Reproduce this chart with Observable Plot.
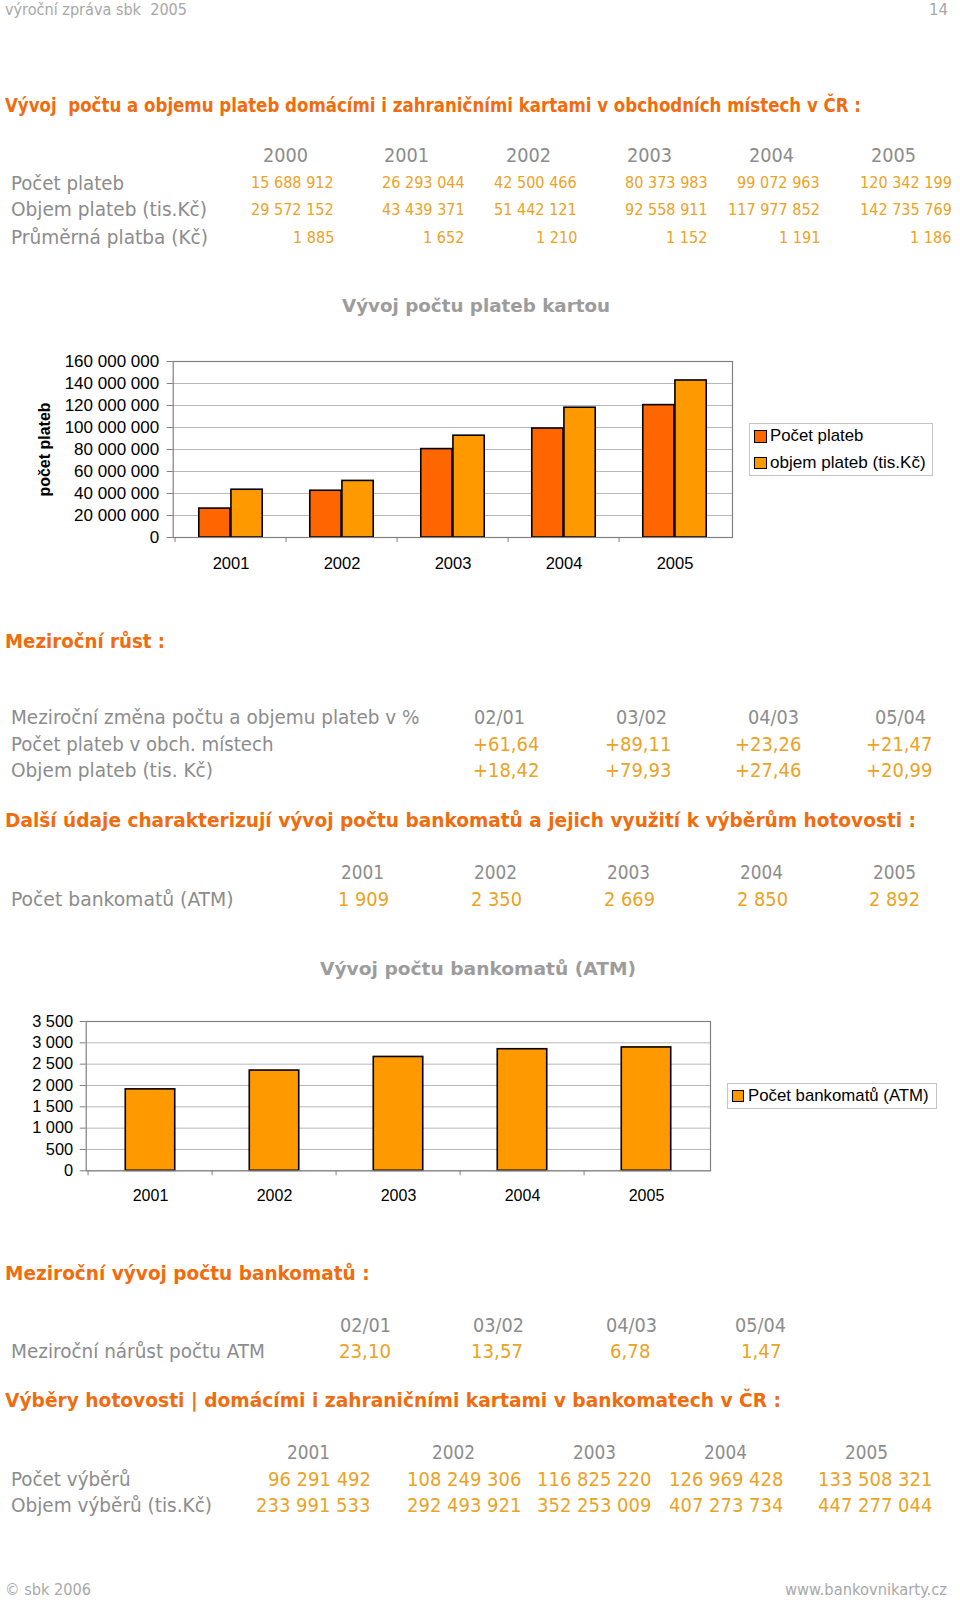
<!DOCTYPE html>
<html><head><meta charset="utf-8">
<script src="https://cdn.jsdelivr.net/npm/d3@7"></script>
<script src="https://cdn.jsdelivr.net/npm/@observablehq/plot@0.6"></script>
<style>
html,body{margin:0;padding:0;background:#fff;}
#page{position:relative;width:960px;height:1602px;overflow:hidden;background:#fff;}
.t{position:absolute;white-space:pre;transform-origin:0 50%;}
.chart{position:absolute;}
.leg{position:absolute;border:1px solid #c4c4c4;box-sizing:border-box;background:#fff;}
.sw{position:absolute;box-sizing:border-box;border:1.5px solid #000;}
</style></head><body><div id="page"></div>
<script>
// ---------------- DATA ----------------
const headerLeft = "výroční zpráva sbk  2005";
const pageNumber = "14";
const sectionTitles = [
  "Vývoj  počtu a objemu plateb domácími i zahraničními kartami v obchodních místech v ČR :",
  "Meziroční růst :",
  "Další údaje charakterizují vývoj počtu bankomatů a jejich využití k výběrům hotovosti :",
  "Meziroční vývoj počtu bankomatů :",
  "Výběry hotovosti | domácími i zahraničními kartami v bankomatech v ČR :"
];
const years6 = ["2000", "2001", "2002", "2003", "2004", "2005"];
const table1Labels = ["Počet plateb", "Objem plateb (tis.Kč)", "Průměrná platba (Kč)"];
const pocetPlateb = [15688912, 26293044, 42500466, 80373983, 99072963, 120342199];
const objemPlateb = [29572152, 43439371, 51442121, 92558911, 117977852, 142735769];
const prumernaPlatba = [1885, 1652, 1210, 1152, 1191, 1186];

const chart1Title = "Vývoj počtu plateb kartou";
const chart1YLabel = "počet plateb";
const chart1Series = ["Počet plateb", "objem plateb (tis.Kč)"];
const chart1Colors = ["#ff6600", "#ff9900"];
const chart1Ticks = [0, 20e6, 40e6, 60e6, 80e6, 100e6, 120e6, 140e6, 160e6];

const growthHeader = "Meziroční změna počtu a objemu plateb v %";
const periods = ["02/01", "03/02", "04/03", "05/04"];
const growthLabels = ["Počet plateb v obch. místech", "Objem plateb (tis. Kč)"];
const growthPocet = [61.64, 89.11, 23.26, 21.47];
const growthObjem = [18.42, 79.93, 27.46, 20.99];

const years5 = ["2001", "2002", "2003", "2004", "2005"];
const atmLabel = "Počet bankomatů (ATM)";
const atmCount = [1909, 2350, 2669, 2850, 2892];

const chart2Title = "Vývoj počtu bankomatů (ATM)";
const chart2Series = ["Počet bankomatů (ATM)"];
const chart2Colors = ["#ff9900"];
const chart2Ticks = [0, 500, 1000, 1500, 2000, 2500, 3000, 3500];

const atmGrowthLabel = "Meziroční nárůst počtu ATM";
const atmGrowth = [23.10, 13.57, 6.78, 1.47];

const vyberyLabels = ["Počet výběrů", "Objem výběrů (tis.Kč)"];
const vyberyPocet = [96291492, 108249306, 116825220, 126969428, 133508321];
const vyberyObjem = [233991533, 292493921, 352253009, 407273734, 447277044];

const footerLeft = "© sbk 2006";
const footerRight = "www.bankovnikarty.cz";

// ---------------- STYLE ----------------
const BODY = '"DejaVu Sans Condensed", "DejaVu Sans", sans-serif';
const BOLDF = '"DejaVu Sans", sans-serif';
const CHARTF = '"Liberation Sans", Arial, sans-serif';
const ORANGE_T = "#f06c0e";
const ORANGE_V = "#eca225";
const GRAY_L = "#8c8c8c";
const GRAY_H = "#a8a8a8";
const GRAY_C = "#9c9c9c";

const page = document.getElementById("page");
const sp = d => d3.format(",")(d).replace(/,/g, " ");
const pct = (d, plus) => (plus ? "+" : "") + d.toFixed(2).replace(".", ",");

function measure(text, size, family, weight) {
  const el = document.createElement("div");
  el.className = "t";
  el.textContent = text;
  el.style.fontSize = size + "px";
  el.style.fontFamily = family;
  el.style.fontWeight = weight || "normal";
  page.appendChild(el);
  const w = el.getBoundingClientRect().width;
  page.removeChild(el);
  return w;
}
function fit(text, size, family, weight, target) {
  return target / measure(text, size, family, weight);
}
function put(text, x, y, o = {}) {
  const size = o.size || 20;
  const family = o.family || BODY;
  const weight = o.weight || "normal";
  const el = document.createElement("div");
  el.className = "t";
  el.textContent = text;
  el.style.fontSize = size + "px";
  el.style.lineHeight = (size * 1.2) + "px";
  el.style.fontFamily = family;
  el.style.fontWeight = weight;
  el.style.color = o.color || GRAY_L;
  el.style.top = (y - size * 0.6) + "px";
  page.appendChild(el);
  const nat = el.getBoundingClientRect().width;
  const s = o.scale || (o.w ? o.w / nat : 1);
  const w = nat * s;
  const a = o.anchor || "start";
  const left = a === "start" ? x : a === "middle" ? x - w / 2 : x - w;
  el.style.left = left + "px";
  el.style.transform = `scaleX(${s})`;
  return el;
}

// ---------------- HEADER ----------------
put(headerLeft, 5, 10, {size: 15, color: GRAY_H, w: 182});
put(pageNumber, 948, 10, {size: 15, color: GRAY_H, w: 19, anchor: "end"});

const titleY = [105, 641.4, 820, 1272.5, 1400];
const titleW = [856, 160, 911, 364.6, 776];
sectionTitles.forEach((t, i) => put(t, 5, titleY[i], {size: 20, weight: "bold", color: ORANGE_T, w: titleW[i], family: BODY}));

// ---------------- TABLE 1 ----------------
const sYear = fit("2000", 20, BODY, "normal", 45);
const t1YearX = [285, 406.5, 528, 649.5, 771, 893.6];
years6.forEach((y, i) => put(y, t1YearX[i], 155.2, {size: 20, scale: sYear, anchor: "middle"}));
const t1RowY = [182.8, 209.4, 237];
const t1LabW = [113, 196, 197];
table1Labels.forEach((l, i) => put(l, 11, t1RowY[i], {size: 20, w: t1LabW[i]}));
const t1ValX = [334, 464.7, 577, 707.8, 820, 951.8];
const sV1 = fit("15 688 912", 16.5, BODY, "normal", 82.7);
[pocetPlateb, objemPlateb, prumernaPlatba].forEach((row, r) =>
  row.forEach((v, i) => put(sp(v), t1ValX[i], t1RowY[r] + 0.5, {size: 16.5, scale: sV1, anchor: "end", color: ORANGE_V})));

// ---------------- CHART 1 ----------------
put(chart1Title, 476, 306, {size: 18, weight: "bold", family: BOLDF, color: GRAY_C, w: 268, anchor: "middle"});
const cardData = years5.flatMap((yr, i) => [
  {year: yr, series: chart1Series[0], value: pocetPlateb[years6.indexOf(yr)]},
  {year: yr, series: chart1Series[1], value: objemPlateb[years6.indexOf(yr)]}
]);
{
  const W = 740, H = 250, mL = 172.7, mR = 8, mT = 31, mB = 43;
  const bw = (W - mL - mR) / years5.length;
  const g = 0.575;
  const svg = Plot.plot({
    width: W, height: H, marginLeft: mL, marginRight: mR, marginTop: mT, marginBottom: mB,
    style: {fontFamily: CHARTF, fontSize: "17px", color: "#000", background: "transparent", overflow: "visible"},
    x: {domain: years5, padding: 0},
    y: {domain: [0, 160e6]},
    color: {domain: chart1Series, range: chart1Colors},
    marks: [
      Plot.gridY(chart1Ticks, {stroke: "#b8b8b8", strokeOpacity: 1}),
      Plot.barY(cardData.filter(d => d.series === chart1Series[0]), {x: "year", y: "value", fill: "series", stroke: "#000", strokeWidth: 1.6, insetLeft: bw * (1 - g) / 2, insetRight: bw / 2}),
      Plot.barY(cardData.filter(d => d.series === chart1Series[1]), {x: "year", y: "value", fill: "series", stroke: "#000", strokeWidth: 1.6, insetLeft: bw / 2, insetRight: bw * (1 - g) / 2}),
      Plot.frame({stroke: "#808080", strokeWidth: 1.2}),
      Plot.axisY({ticks: chart1Ticks, tickSize: 6, tickPadding: 8, tickFormat: sp, stroke: "#808080", fill: "#000", fontSize: 17, label: null}),
      Plot.axisY({ticks: [], tickSize: 0, label: chart1YLabel, labelAnchor: "center", labelArrow: "none", labelOffset: 134.4, fontWeight: "bold", fontSize: 16, fill: "#000"}),
      Plot.axisX({tickSize: 0, tickPadding: 19.6, fill: "#000", fontSize: 16.5, label: null}),
      Plot.axisX({tickSize: 5, fill: "none", stroke: "#808080", dx: -bw / 2, label: null})
    ]
  });
  svg.classList.add("chart");
  svg.style.left = "0px"; svg.style.top = "330px";
  page.appendChild(svg);
}
{
  const leg = document.createElement("div");
  leg.className = "leg";
  Object.assign(leg.style, {left: "749px", top: "422.7px", width: "184px", height: "53.3px"});
  page.appendChild(leg);
  const cy = [436, 462.7];
  const lw = [93.3, 155.7];
  chart1Series.forEach((s, i) => {
    const sw = document.createElement("div");
    sw.className = "sw";
    Object.assign(sw.style, {left: "754px", top: (cy[i] - 6) + "px", width: "12.5px", height: "12.5px", background: chart1Colors[i]});
    page.appendChild(sw);
    put(s, 770, cy[i], {size: 17, family: CHARTF, color: "#000", w: lw[i]});
  });
}

// ---------------- TABLE 2 ----------------
put(growthHeader, 11, 717, {size: 20, w: 408.5});
const sPer = fit("02/01", 20, BODY, "normal", 51);
const t2PerX = [499.4, 641.4, 773, 900.8];
periods.forEach((p, i) => put(p, t2PerX[i], 717, {size: 20, scale: sPer, anchor: "middle"}));
const t2RowY = [743.5, 770];
const t2LabW = [262.5, 202];
growthLabels.forEach((l, i) => put(l, 11, t2RowY[i], {size: 20, w: t2LabW[i]}));
const t2ValX = [539, 671, 801.7, 932.4];
const sV2 = fit("+61,64", 20, BODY, "normal", 66.4);
[growthPocet, growthObjem].forEach((row, r) =>
  row.forEach((v, i) => put(pct(v, true), t2ValX[i], t2RowY[r], {size: 20, scale: sV2, anchor: "end", color: ORANGE_V})));

// ---------------- TABLE 3 ----------------
const sYear3 = fit("2001", 20, BODY, "normal", 43);
const t3YearX = [362.6, 495.3, 628, 761.9, 894.7];
years5.forEach((y, i) => put(y, t3YearX[i], 872, {size: 20, scale: sYear3, anchor: "middle"}));
put(atmLabel, 11, 898.7, {size: 20, w: 222.6});
const t3ValX = [363.6, 496.4, 629, 762.4, 894.7];
const sV3 = fit("1 909", 20, BODY, "normal", 51);
atmCount.forEach((v, i) => put(sp(v), t3ValX[i], 898.7, {size: 20, scale: sV3, anchor: "middle", color: ORANGE_V}));

// ---------------- CHART 2 ----------------
put(chart2Title, 478, 968.3, {size: 18, weight: "bold", family: BOLDF, color: GRAY_C, w: 316, anchor: "middle"});
const atmData = years5.map((yr, i) => ({year: yr, series: chart2Series[0], value: atmCount[i]}));
{
  const W = 720, H = 215, mL = 85.7, mR = 10, mT = 21, mB = 44.7;
  const bw = (W - mL - mR) / years5.length;
  const g = 0.403;
  const svg = Plot.plot({
    width: W, height: H, marginLeft: mL, marginRight: mR, marginTop: mT, marginBottom: mB,
    style: {fontFamily: CHARTF, fontSize: "16px", color: "#000", background: "transparent", overflow: "visible"},
    x: {domain: years5, padding: 0},
    y: {domain: [0, 3500]},
    color: {domain: chart2Series, range: chart2Colors},
    marks: [
      Plot.gridY(chart2Ticks, {stroke: "#b8b8b8", strokeOpacity: 1}),
      Plot.barY(atmData, {x: "year", y: "value", fill: "series", stroke: "#000", strokeWidth: 1.6, insetLeft: bw * (1 - g) / 2, insetRight: bw * (1 - g) / 2}),
      Plot.frame({stroke: "#808080", strokeWidth: 1.2}),
      Plot.axisY({ticks: chart2Ticks, tickSize: 6, tickPadding: 7, tickFormat: sp, stroke: "#808080", fill: "#000", fontSize: 16.4, label: null}),
      Plot.axisX({tickSize: 0, tickPadding: 19, fill: "#000", fontSize: 16, label: null}),
      Plot.axisX({tickSize: 5, fill: "none", stroke: "#808080", dx: -bw / 2, label: null})
    ]
  });
  svg.classList.add("chart");
  svg.style.left = "0px"; svg.style.top = "1000px";
  page.appendChild(svg);
}
{
  const leg = document.createElement("div");
  leg.className = "leg";
  Object.assign(leg.style, {left: "726.7px", top: "1082.7px", width: "210px", height: "26.6px"});
  page.appendChild(leg);
  const sw = document.createElement("div");
  sw.className = "sw";
  Object.assign(sw.style, {left: "732.3px", top: (1096.4 - 6) + "px", width: "12px", height: "12px", background: chart2Colors[0]});
  page.appendChild(sw);
  put(chart2Series[0], 747.7, 1096.4, {size: 17, family: CHARTF, color: "#000", w: 180.7});
}

// ---------------- TABLE 4 ----------------
const t4PerX = [365.6, 498.4, 631.2, 760.9];
periods.forEach((p, i) => put(p, t4PerX[i], 1324.6, {size: 20, scale: sPer, anchor: "middle"}));
put(atmGrowthLabel, 11, 1351, {size: 20, w: 254});
const t4ValX = [364.6, 497.4, 630, 760.9];
const sV4 = fit("23,10", 20, BODY, "normal", 52);
atmGrowth.forEach((v, i) => put(pct(v, false), t4ValX[i], 1351, {size: 20, scale: sV4, anchor: "middle", color: ORANGE_V}));

// ---------------- TABLE 5 ----------------
const t5YearX = [308.4, 453.5, 594.4, 725.1, 866];
years5.forEach((y, i) => put(y, t5YearX[i], 1452.3, {size: 20, scale: sYear3, anchor: "middle"}));
const t5RowY = [1478.8, 1505.4];
const t5LabW = [119.5, 201];
vyberyLabels.forEach((l, i) => put(l, 11, t5RowY[i], {size: 20, w: t5LabW[i]}));
const t5ValX = [370.7, 520.9, 651.6, 783.3, 932.4];
const sV5 = fit("233 991 533", 20, BODY, "normal", 114.4);
[vyberyPocet, vyberyObjem].forEach((row, r) =>
  row.forEach((v, i) => put(sp(v), t5ValX[i], t5RowY[r], {size: 20, scale: sV5, anchor: "end", color: ORANGE_V})));

// ---------------- FOOTER ----------------
put(footerLeft, 5, 1590, {size: 16, color: GRAY_H, w: 86});
put(footerRight, 946.7, 1590, {size: 16, color: GRAY_H, w: 162, anchor: "end"});
</script>
</body></html>
